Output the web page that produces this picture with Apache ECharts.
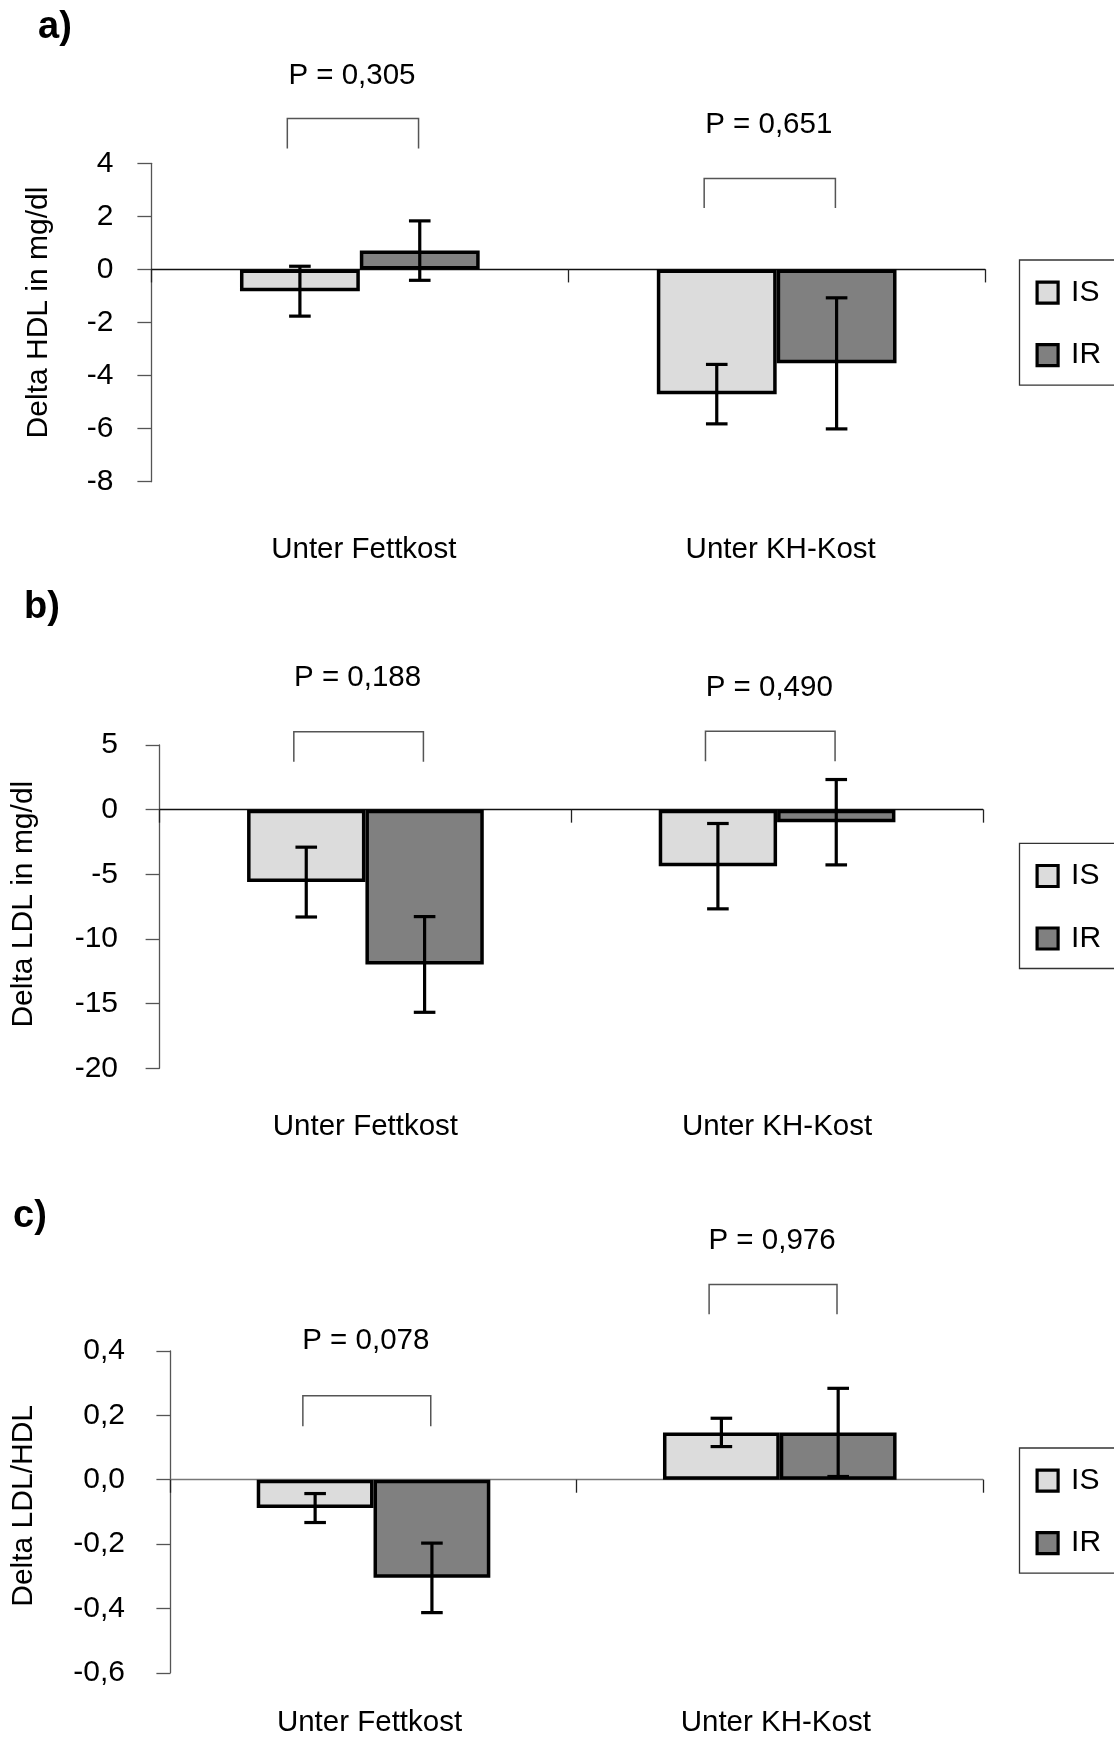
<!DOCTYPE html>
<html><head><meta charset="utf-8">
<script src="https://cdn.jsdelivr.net/npm/echarts@6/dist/echarts.min.js"></script>
<style>html,body{margin:0;padding:0;background:#fff}#c{width:1114px;height:1742px}</style>
</head><body><div id="c"></div>
<script>
// ---------- data ----------
const categories = ['Unter Fettkost', 'Unter KH-Kost'];
const groups = ['IS', 'IR'];

const hdlIS = [-0.82, -4.70];
const hdlIR = [0.71, -3.54];
const hdlISErr = [0.94, 1.12];
const hdlIRErr = [1.12, 2.47];

const ldlIS = [-5.6, -4.37];
const ldlIR = [-11.97, -0.97];
const ldlISErr = [2.7, 3.3];
const ldlIRErr = [3.7, 3.3];

const ratioIS = [-0.088, 0.147];
const ratioIR = [-0.305, 0.147];
const ratioISErr = [0.045, 0.044];
const ratioIRErr = [0.108, 0.137];

const hdlTicks = [-8, -6, -4, -2, 0, 2, 4];
const ldlTicks = [-20, -15, -10, -5, 0, 5];
const ratioTicks = [-0.6, -0.4, -0.2, 0, 0.2, 0.4];

const pHDL = ['P = 0,305', 'P = 0,651'];
const pLDL = ['P = 0,188', 'P = 0,490'];
const pRatio = ['P = 0,078', 'P = 0,976'];

// ---------- layout ----------
const FONT = 'Liberation Sans, Arial, Helvetica, sans-serif';
const GAP = 0.425;
const IS_COLOR = '#dcdcdc', IR_COLOR = '#808080';

const panels = [
  { tag: 'a)', tagPos: [38, 9], yName: 'Delta HDL in mg/dl', ticks: hdlTicks, dec: 0,
    is: hdlIS, ir: hdlIR, isErr: hdlISErr, irErr: hdlIRErr, p: pHDL,
    grid: { left: 151.4, top: 163.3, width: 833.7, height: 318.4 },
    yLabelMargin: 38, nameGap: 98, namePad: 20, catMargin: 53, catPad: 4, legendTop: 260, zeroColor: '#111',
    // [bracket top, bracket leg bottom, text centre] in axis units
    ann: [[5.69, 4.56, 7.30], [3.43, 2.32, 5.44]] },
  { tag: 'b)', tagPos: [24, 589], yName: 'Delta LDL in mg/dl', ticks: ldlTicks, dec: 0,
    is: ldlIS, ir: ldlIR, isErr: ldlISErr, irErr: ldlIRErr, p: pLDL,
    grid: { left: 159.6, top: 745, width: 823.3, height: 323.3 },
    yLabelMargin: 41.6, nameGap: 121, namePad: 5, catMargin: 44, catPad: 0, legendTop: 843.3, zeroColor: '#111',
    ann: [[6.02, 3.70, 10.19], [6.07, 3.75, 9.42]] },
  { tag: 'c)', tagPos: [13, 1198], yName: 'Delta LDL/HDL', ticks: ratioTicks, dec: 1,
    is: ratioIS, ir: ratioIR, isErr: ratioISErr, irErr: ratioIRErr, p: pRatio,
    grid: { left: 170.4, top: 1351, width: 812.5, height: 321.8 },
    yLabelMargin: 45.4, nameGap: 132, namePad: 12, catMargin: 35, catPad: -4, legendTop: 1448, zeroColor: '#777',
    ann: [[0.261, 0.166, 0.430], [0.607, 0.514, 0.742]] }
];

function errRender(params, api) {
  const cat = api.value(0), mean = api.value(1), err = api.value(2), s = api.value(3);
  const band = api.size([1, 0])[0];
  const bw = band * (1 - GAP) / 2;
  const cx = api.coord([cat, 0])[0] + (s === 0 ? -bw / 2 : bw / 2);
  const yHi = api.coord([cat, mean + err])[1];
  const yLo = api.coord([cat, mean - err])[1];
  const half = 10.8;
  const style = { stroke: '#000', lineWidth: 3.2, fill: null };
  return { type: 'group', children: [
    { type: 'line', shape: { x1: cx, y1: yHi, x2: cx, y2: yLo }, style },
    { type: 'line', shape: { x1: cx - half, y1: yHi, x2: cx + half, y2: yHi }, style },
    { type: 'line', shape: { x1: cx - half, y1: yLo, x2: cx + half, y2: yLo }, style }
  ]};
}

function annRender(texts) {
  return function (params, api) {
    const cat = api.value(0);
    const band = api.size([1, 0])[0];
    const bw = band * (1 - GAP) / 2;
    const cx = api.coord([cat, 0])[0];
    const yT = api.coord([cat, api.value(1)])[1];
    const yB = api.coord([cat, api.value(2)])[1];
    const yTxt = api.coord([cat, api.value(3)])[1];
    const l = cx - 0.605 * bw, r = cx + 0.49 * bw;
    return { type: 'group', children: [
      { type: 'polyline', shape: { points: [[l, yB], [l, yT], [r, yT], [r, yB]] },
        style: { stroke: '#555', lineWidth: 1.5, fill: null } },
      { type: 'text', x: (l + r) / 2 - 1, y: yTxt,
        style: { text: texts[params.dataIndex], fontSize: 29.5, fontFamily: FONT, fill: '#000',
                 align: 'center', verticalAlign: 'middle' } }
    ]};
  };
}

const option = { backgroundColor: '#fff', animation: false,
  title: [], grid: [], xAxis: [], yAxis: [], legend: [], series: [] };

panels.forEach((p, i) => {
  option.title.push({ text: p.tag, left: p.tagPos[0], top: p.tagPos[1], padding: 0,
    textStyle: { fontSize: 38, fontWeight: 'bold', fontFamily: FONT, color: '#000' } });
  option.grid.push(Object.assign({ containLabel: false }, p.grid));
  // label axis (bottom)
  option.xAxis.push({ type: 'category', gridIndex: i, data: categories, position: 'bottom',
    axisLine: { show: false, onZero: false }, axisTick: { show: false }, splitLine: { show: false },
    axisLabel: { margin: p.catMargin, fontSize: 29.5, lineHeight: 30, fontFamily: FONT, color: '#000',
      padding: p.catPad >= 0 ? [0, 0, 0, 2 * p.catPad] : [0, -2 * p.catPad, 0, 0] } });
  // zero line axis with ticks
  option.xAxis.push({ type: 'category', gridIndex: i, data: categories, position: 'top',
    axisLine: { show: true, onZero: true, lineStyle: { color: p.zeroColor, width: 1.3 } },
    axisTick: { show: true, inside: true, length: 13, lineStyle: { color: '#222', width: 1.3 } },
    axisLabel: { show: false }, splitLine: { show: false } });
  const t = p.ticks;
  option.yAxis.push({ type: 'value', gridIndex: i, min: t[0], max: t[t.length - 1],
    interval: +(t[1] - t[0]).toFixed(6),
    name: p.yName, nameLocation: 'middle', nameGap: p.nameGap,
    nameTextStyle: { fontSize: 30, fontFamily: FONT, color: '#000', padding: [0, 0, 0, p.namePad] },
    axisLine: { show: true, lineStyle: { color: '#555', width: 1.3 } },
    axisTick: { show: true, length: 14, lineStyle: { color: '#555', width: 1.3 } },
    splitLine: { show: false },
    axisLabel: { margin: p.yLabelMargin, fontSize: 30, fontFamily: FONT, color: '#000',
      formatter: v => p.dec ? v.toFixed(p.dec).replace('.', ',') : String(Math.round(v)) } });
  option.legend.push({ orient: 'vertical', left: 1019.5, top: p.legendTop, data: groups,
    icon: 'rect', itemWidth: 21, itemHeight: 21, itemGap: 32.5, selectedMode: false,
    padding: [17.7, 120, 15, 16], borderColor: '#333', borderWidth: 1.3,
    itemStyle: { borderColor: '#000', borderWidth: 3.2 },
    textStyle: { fontSize: 30, lineHeight: 30, fontFamily: FONT, color: '#000', padding: [0, 0, 0, 8] } });
  [[p.is, IS_COLOR, 'IS'], [p.ir, IR_COLOR, 'IR']].forEach(([vals, col, nm]) => {
    option.series.push({ type: 'bar', name: nm, xAxisIndex: 2 * i, yAxisIndex: i, data: vals,
      barGap: '0%', barCategoryGap: (GAP * 100) + '%', z: 3,
      itemStyle: { color: col, borderColor: '#000', borderWidth: 3.5 } });
  });
  const errData = [];
  p.is.forEach((v, k) => errData.push([k, v, p.isErr[k], 0]));
  p.ir.forEach((v, k) => errData.push([k, v, p.irErr[k], 1]));
  option.series.push({ type: 'custom', name: 'err' + i, xAxisIndex: 2 * i, yAxisIndex: i,
    data: errData, renderItem: errRender, encode: { x: 0, y: 1 }, z: 5, clip: false, silent: true });
  option.series.push({ type: 'custom', name: 'ann' + i, xAxisIndex: 2 * i, yAxisIndex: i,
    data: p.ann.map((a, k) => [k, a[0], a[1], a[2]]), renderItem: annRender(p.p),
    encode: { x: 0, y: 1 }, z: 5, clip: false, silent: true });
});

const chart = echarts.init(document.getElementById('c'), null, { renderer: 'canvas' });
chart.setOption(option);
</script></body></html>
